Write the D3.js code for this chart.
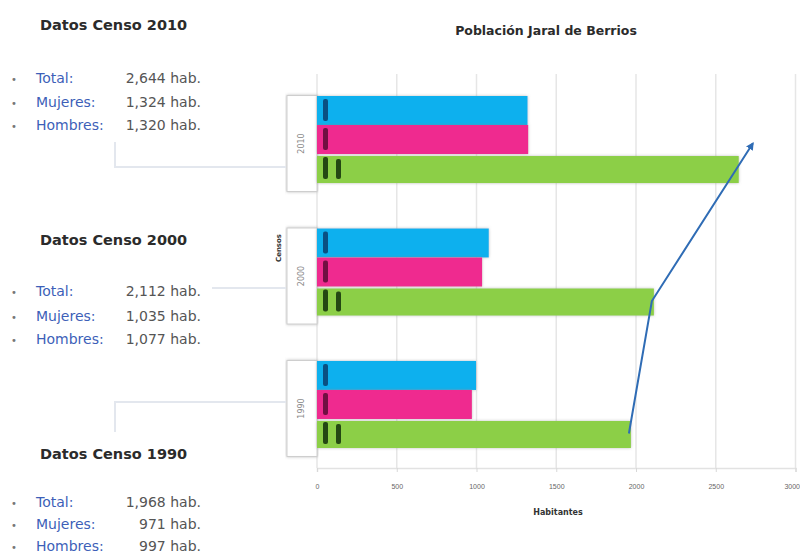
<!DOCTYPE html>
<html><head><meta charset="utf-8">
<script src="https://cdn.jsdelivr.net/npm/d3@7"></script>
<style>body{margin:0;background:#fff}svg{display:block}</style>
</head><body>
<script>
const censos = ["2010", "2000", "1990"];
const series = ["Hombres", "Mujeres", "Total"];
const hombres = [1320, 1077, 997];
const mujeres = [1324, 1035, 971];
const total = [2644, 2112, 1968];
const xTicks = [0, 500, 1000, 1500, 2000, 2500, 3000];
const colors = ["#0fb0ee", "#ef2a8f", "#8ccf46"];
const chartTitle = "Población Jaral de Berrios";
const xTitle = "Habitantes";
const yTitle = "Censos";
const panelTitles = ["Datos Censo 2010", "Datos Censo 2000", "Datos Censo 1990"];
const itemLabels = ["Total:", "Mujeres:", "Hombres:"];

const W = 800, H = 556;
const svg = d3.select("body").append("svg").attr("width", W).attr("height", H)
  .style("font-family", "DejaVu Sans, sans-serif");

const defs = svg.append("defs");
const f = defs.append("filter").attr("id", "sh").attr("x", "-5%").attr("y", "-20%").attr("width", "110%").attr("height", "140%");
f.append("feDropShadow").attr("dx", 0).attr("dy", 0).attr("stdDeviation", 1.6)
  .attr("flood-color", "#888").attr("flood-opacity", 0.55);
defs.append("marker").attr("id", "arr").attr("viewBox", "0 0 10 10").attr("refX", 8).attr("refY", 5)
  .attr("markerWidth", 4).attr("markerHeight", 4).attr("orient", "auto")
  .append("path").attr("d", "M0,0L10,5L0,10z").attr("fill", "#2f6cb5");

const x = d3.scaleLinear().domain([0, 3000]).range([317, 795.5]);
const y = d3.scaleBand().domain(censos).range([96, 448]).paddingInner(0.343).paddingOuter(0);
const ys = d3.scaleBand().domain(series).range([0, y.bandwidth()]);

// grid
svg.append("g").selectAll("line").data(xTicks).join("line")
  .attr("x1", d => x(d)).attr("x2", d => x(d)).attr("y1", 74).attr("y2", 468)
  .attr("stroke", "#e6e6e6").attr("stroke-width", 1.5);

// x axis
const xa = svg.append("g").attr("transform", "translate(0,468)")
  .call(d3.axisBottom(x).tickValues(xTicks).tickFormat(d3.format("d")).tickSize(4).tickPadding(12));
xa.select(".domain").attr("stroke", "#e2e2e2").attr("stroke-width", 1.5);
xa.selectAll(".tick line").attr("stroke", "#d8d8d8");
xa.selectAll("text").attr("fill", "#666").style("font-size", "7px");
xa.selectAll(".tick").filter(d => d === 3000).select("text").attr("text-anchor", "end").attr("dx", 4);

svg.append("text").attr("x", 558).attr("y", 515).attr("text-anchor", "middle")
  .style("font-size", "8px").style("font-weight", "bold").attr("fill", "#333").text(xTitle);
svg.append("text").attr("transform", "translate(281,248) rotate(-90)").attr("text-anchor", "middle")
  .style("font-size", "7px").style("font-weight", "bold").attr("fill", "#333").text(yTitle);

// category boxes
const boxes = svg.append("g").selectAll("g").data(censos).join("g");
boxes.append("rect").attr("x", 287).attr("width", 30)
  .attr("y", d => y(d) + y.bandwidth() / 2 + 4 - 48).attr("height", 96)
  .attr("fill", "#fff").attr("stroke", "#cfcfcf").attr("filter", "url(#sh)");
boxes.append("text")
  .attr("transform", d => `translate(${304},${y(d) + y.bandwidth() / 2 + 4}) rotate(-90)`)
  .attr("text-anchor", "middle").style("font-size", "8px").attr("fill", "#888").text(d => d);

// bars
const vals = [hombres, mujeres, total];
const barData = [];
censos.forEach((c, i) => series.forEach((s, j) => barData.push({c, s, j, v: vals[j][i]})));
const bars = svg.append("g").selectAll("g").data(barData).join("g");
bars.append("rect")
  .attr("x", x(0)).attr("y", d => y(d.c) + ys(d.s) + (d.j === 2 ? 2 : 0))
  .attr("width", d => x(d.v) - x(0)).attr("height", d => ys.bandwidth() - (d.j === 2 ? 2 : 0))
  .attr("fill", d => colors[d.j]).attr("filter", "url(#sh)");
// small dark label marks
bars.append("rect").attr("x", x(0) + 6).attr("width", 5)
  .attr("y", d => y(d.c) + ys(d.s) + 3).attr("height", d => ys.bandwidth() - 7).attr("rx", 2)
  .attr("fill", d => ["#0b3f6e", "#5a0a35", "#12300a"][d.j]).attr("opacity", 0.85);
bars.filter(d => d.j === 2).append("rect").attr("x", x(0) + 19).attr("width", 5)
  .attr("y", d => y(d.c) + ys(d.s) + 5).attr("height", ys.bandwidth() - 9).attr("rx", 2)
  .attr("fill", "#12300a").attr("opacity", 0.85);

// total trend line with arrow
const pts = censos.map((c, i) => [x(total[i]) - 2, y(c) + ys("Total") + ys.bandwidth() / 2]).reverse();
const a = pts[1], b = pts[2];
const dx = b[0] - a[0], dy = b[1] - a[1], L = Math.hypot(dx, dy), ext = 30;
pts.push([b[0] + dx / L * ext, b[1] + dy / L * ext]);
svg.append("path").attr("d", d3.line()([pts[0], pts[1], pts[3]]))
  .attr("fill", "none").attr("stroke", "#2f6cb5").attr("stroke-width", 2)
  .attr("marker-end", "url(#arr)");

// chart title
svg.append("text").attr("x", 546).attr("y", 35).attr("text-anchor", "middle")
  .style("font-size", "12.5px").style("font-weight", "bold").attr("fill", "#2b2b2b").text(chartTitle);

// left panels
const panelY = [25, 240, 454];
const listY = [[78, 102, 125], [291, 316, 339], [502, 524, 546]];
const panelVals = [[total[0], mujeres[0], hombres[0]], [total[1], mujeres[1], hombres[1]], [total[2], mujeres[2], hombres[2]]];
const fmt = d3.format(",");
panelTitles.forEach((t, i) => {
  svg.append("text").attr("x", 40).attr("y", panelY[i] + 5).style("font-size", "14.5px")
    .style("font-weight", "bold").attr("fill", "#2b2b2b").text(t);
  itemLabels.forEach((lab, k) => {
    const yy = listY[i][k] + 5;
    svg.append("text").attr("x", 11).attr("y", yy).style("font-size", "10px").attr("fill", "#777").text("•");
    svg.append("text").attr("x", 36).attr("y", yy).style("font-size", "14px").attr("fill", "#3d5fb8").text(lab);
    svg.append("text").attr("x", 201).attr("y", yy).attr("text-anchor", "end").style("font-size", "14px")
      .attr("fill", "#555").text(fmt(panelVals[i][k]) + " hab.");
  });
});

// connectors
const conn = svg.append("g").attr("fill", "none").attr("stroke", "#e3e7ee").attr("stroke-width", 2);
conn.append("path").attr("d", "M115,142V167H286");
conn.append("path").attr("d", "M212,288H286");
conn.append("path").attr("d", "M115,432V402H286");
</script>
</body></html>
